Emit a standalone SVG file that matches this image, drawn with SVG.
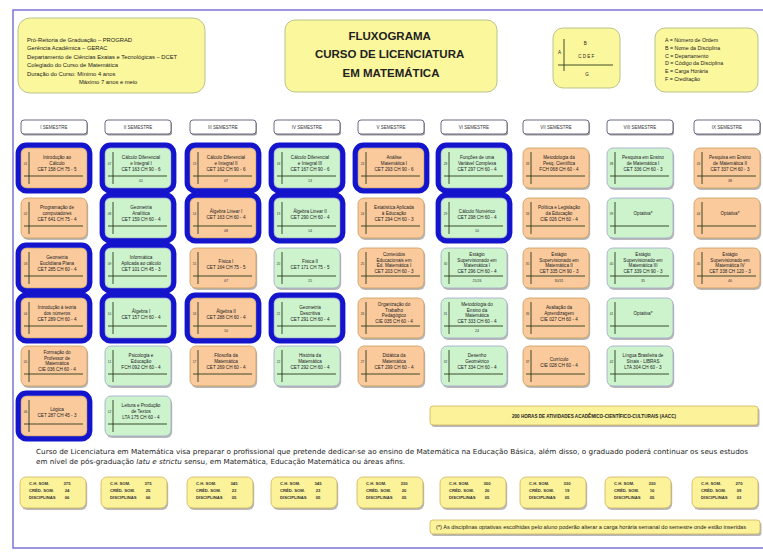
<svg xmlns="http://www.w3.org/2000/svg" width="763" height="552" viewBox="0 0 763 552">
<style>
  .frame{fill:#fff;stroke:#7a74d8;stroke-width:1.5}
  .yel{fill:#fbf79c;stroke:#b9c58a;stroke-width:1}
  .ybox{fill:#fbf29a;stroke:#d2b25e;stroke-width:.8}
  .hdr{fill:#fff;stroke:#6c6a82;stroke-width:1}
  .sh{fill:#7d7d7d;opacity:.55}
  .or{fill:#fbca9c;stroke:#c89c5c;stroke-width:.8}
  .gr{fill:#cdf3cd;stroke:#9ea6cc;stroke-width:.8}
  .hl{fill:none;stroke:#1414cc;stroke-width:5.2}
  .ax{stroke:#2b3a1c;stroke-width:.9;fill:none}
  .t{font-family:"Liberation Sans",Arial,sans-serif;fill:#222}
  .ct{font-family:"Liberation Sans",Arial,sans-serif;font-size:4.6px;text-anchor:middle;fill:#222}
  .an{font-family:"Liberation Sans",Arial,sans-serif;font-size:3.2px;text-anchor:middle;fill:#333}
  .g{font-family:"Liberation Sans",Arial,sans-serif;font-size:3.6px;text-anchor:middle;fill:#333}
  .st{font-family:"Liberation Sans",Arial,sans-serif;font-size:4.5px;text-anchor:middle;fill:#333}
  .sm{font-family:"Liberation Sans",Arial,sans-serif;font-size:4.2px;fill:#333;font-weight:bold}
</style>
<defs>
  <!-- shared course card pieces -->
  <rect id="shadow" class="sh" x="1.2" y="2" width="66" height="40" rx="6"/>
  <path id="axes" class="ax" d="M8 4V36M3 28H62"/>
  <rect id="ring" class="hl" x="-2.8" y="-2.8" width="71.6" height="45.6" rx="8"/>
  <rect id="sumshadow" class="sh" x="1.2" y="2" width="66" height="31" rx="6"/>
  <rect id="hdrshadow" fill="#555" opacity=".6" x="1" y="1.6" width="66" height="14" rx="3"/>
</defs>

<!-- page frame -->
<rect class="frame" x="13" y="10" width="756" height="538"/>

<!-- institution block -->
<g id="info">
  <rect class="yel" x="18" y="18" width="187" height="75" rx="12"/>
  <text class="t" font-size="5.8">
    <tspan x="27" y="41.5">Pró-Reitoria de Graduação – PROGRAD</tspan>
    <tspan x="27" y="50">Gerência Acadêmica – GERAC</tspan>
    <tspan x="27" y="58.5">Departamento de Ciências Exatas e Tecnológicas – DCET</tspan>
    <tspan x="27" y="67">Colegiado do Curso de Matemática</tspan>
    <tspan x="27" y="75.5">Duração do Curso: Mínimo 4 anos</tspan>
    <tspan x="79" y="84">Máximo 7 anos e meio</tspan>
  </text>
</g>

<!-- title -->
<g id="title">
  <rect class="yel" x="285" y="20" width="212" height="72" rx="10"/>
  <text class="t" font-size="11.5" font-weight="bold" text-anchor="middle" fill="#1c1c1c">
    <tspan x="391" y="40">FLUXOGRAMA</tspan>
    <tspan x="391" y="58">CURSO DE LICENCIATURA</tspan>
    <tspan x="391" y="77">EM MATEMÁTICA</tspan>
  </text>
</g>

<!-- card key -->
<g id="key">
  <rect class="yel" x="553" y="28" width="67" height="60" rx="10"/>
  <path class="ax" d="M564 39V71M558 65H613"/>
  <text class="t" font-size="4.5" text-anchor="middle">
    <tspan x="586" y="45">B</tspan>
    <tspan x="560" y="54">A</tspan>
    <tspan x="587" y="58">C D E F</tspan>
    <tspan x="587" y="76">G</tspan>
  </text>
</g>

<!-- key legend -->
<g id="legend">
  <rect class="yel" x="655" y="28" width="103" height="64" rx="10"/>
  <text class="t" font-size="5.3">
    <tspan x="665" y="42">A = Número de Ordem</tspan>
    <tspan x="665" y="49.8">B = Nome da Disciplina</tspan>
    <tspan x="665" y="57.6">C = Departamento</tspan>
    <tspan x="665" y="65.4">D = Código da Disciplina</tspan>
    <tspan x="665" y="73.2">E = Carga Horária</tspan>
    <tspan x="665" y="81">F = Creditação</tspan>
  </text>
</g>

<!-- semester headers -->
<g id="sem1" transform="translate(21,120)"><use href="#hdrshadow"/><rect class="hdr" width="66" height="14" rx="3"/><text class="st" x="33" y="8.6">I SEMESTRE</text></g>
<g id="sem2" transform="translate(105,120)"><use href="#hdrshadow"/><rect class="hdr" width="66" height="14" rx="3"/><text class="st" x="33" y="8.6">II SEMESTRE</text></g>
<g id="sem3" transform="translate(190,120)"><use href="#hdrshadow"/><rect class="hdr" width="66" height="14" rx="3"/><text class="st" x="33" y="8.6">III SEMESTRE</text></g>
<g id="sem4" transform="translate(274,120)"><use href="#hdrshadow"/><rect class="hdr" width="66" height="14" rx="3"/><text class="st" x="33" y="8.6">IV SEMESTRE</text></g>
<g id="sem5" transform="translate(358,120)"><use href="#hdrshadow"/><rect class="hdr" width="66" height="14" rx="3"/><text class="st" x="33" y="8.6">V SEMESTRE</text></g>
<g id="sem6" transform="translate(441,120)"><use href="#hdrshadow"/><rect class="hdr" width="66" height="14" rx="3"/><text class="st" x="33" y="8.6">VI SEMESTRE</text></g>
<g id="sem7" transform="translate(523,120)"><use href="#hdrshadow"/><rect class="hdr" width="66" height="14" rx="3"/><text class="st" x="33" y="8.6">VII SEMESTRE</text></g>
<g id="sem8" transform="translate(607,120)"><use href="#hdrshadow"/><rect class="hdr" width="66" height="14" rx="3"/><text class="st" x="33" y="8.6">VIII SEMESTRE</text></g>
<g id="sem9" transform="translate(694,120)"><use href="#hdrshadow"/><rect class="hdr" width="66" height="14" rx="3"/><text class="st" x="33" y="8.6">IX SEMESTRE</text></g>

<!-- I semestre -->
<g id="d01" transform="translate(21,148)"><use href="#shadow"/><rect class="or" width="66" height="40" rx="6"/><use href="#axes"/><text class="an" x="4.5" y="17">01</text>
  <text class="ct"><tspan x="36" y="11">Introdução ao</tspan><tspan x="36" y="17">Cálculo</tspan><tspan x="36" y="23">CET 158 CH 75 - 5</tspan></text><use href="#ring"/></g>
<g id="d02" transform="translate(21,198)"><use href="#shadow"/><rect class="or" width="66" height="40" rx="6"/><use href="#axes"/><text class="an" x="4.5" y="17">02</text>
  <text class="ct"><tspan x="36" y="11">Programação de</tspan><tspan x="36" y="17">computadores</tspan><tspan x="36" y="23">CET 641 CH 75 - 4</tspan></text></g>
<g id="d03" transform="translate(21,248)"><use href="#shadow"/><rect class="or" width="66" height="40" rx="6"/><use href="#axes"/><text class="an" x="4.5" y="17">03</text>
  <text class="ct"><tspan x="36" y="11">Geometria</tspan><tspan x="36" y="17">Euclidiana Plana</tspan><tspan x="36" y="23">CET 285 CH 60 - 4</tspan></text><use href="#ring"/></g>
<g id="d04" transform="translate(21,298)"><use href="#shadow"/><rect class="or" width="66" height="40" rx="6"/><use href="#axes"/><text class="an" x="4.5" y="17">04</text>
  <text class="ct"><tspan x="36" y="11">Introdução à teoria</tspan><tspan x="36" y="17">dos números</tspan><tspan x="36" y="23">CET 289 CH 60 - 4</tspan></text><use href="#ring"/></g>
<g id="d05" transform="translate(21,346)"><use href="#shadow"/><rect class="or" width="66" height="40" rx="6"/><use href="#axes"/><text class="an" x="4.5" y="17">05</text>
  <text class="ct"><tspan x="36" y="8">Formação do</tspan><tspan x="36" y="13.5">Professor de</tspan><tspan x="36" y="19">Matemática</tspan><tspan x="36" y="24.5">CIE 036 CH 60 - 4</tspan></text></g>
<g id="d06" transform="translate(21,396)"><use href="#shadow"/><rect class="or" width="66" height="40" rx="6"/><use href="#axes"/><text class="an" x="4.5" y="17">06</text>
  <text class="ct"><tspan x="36" y="15">Lógica</tspan><tspan x="36" y="21">CET 287 CH 45 - 3</tspan></text><use href="#ring"/></g>

<!-- II semestre -->
<g id="d07" transform="translate(105,148)"><use href="#shadow"/><rect class="gr" width="66" height="40" rx="6"/><use href="#axes"/><text class="an" x="4.5" y="17">07</text>
  <text class="ct"><tspan x="36" y="11">Cálculo Diferencial</tspan><tspan x="36" y="17">e Integral I</tspan><tspan x="36" y="23">CET 163 CH 90 - 6</tspan></text><text class="g" x="36" y="34">01</text><use href="#ring"/></g>
<g id="d08" transform="translate(105,198)"><use href="#shadow"/><rect class="gr" width="66" height="40" rx="6"/><use href="#axes"/><text class="an" x="4.5" y="17">08</text>
  <text class="ct"><tspan x="36" y="11">Geometria</tspan><tspan x="36" y="17">Analítica</tspan><tspan x="36" y="23">CET 159 CH 60 - 4</tspan></text><use href="#ring"/></g>
<g id="d09" transform="translate(105,248)"><use href="#shadow"/><rect class="gr" width="66" height="40" rx="6"/><use href="#axes"/><text class="an" x="4.5" y="17">09</text>
  <text class="ct"><tspan x="36" y="11">Informática</tspan><tspan x="36" y="17">Aplicada ao cálculo</tspan><tspan x="36" y="23">CET 101 CH 45 - 3</tspan></text><use href="#ring"/></g>
<g id="d10" transform="translate(105,298)"><use href="#shadow"/><rect class="gr" width="66" height="40" rx="6"/><use href="#axes"/><text class="an" x="4.5" y="17">10</text>
  <text class="ct"><tspan x="36" y="15">Álgebra I</tspan><tspan x="36" y="21">CET 157 CH 60 - 4</tspan></text><use href="#ring"/></g>
<g id="d11" transform="translate(105,346)"><use href="#shadow"/><rect class="gr" width="66" height="40" rx="6"/><use href="#axes"/><text class="an" x="4.5" y="17">11</text>
  <text class="ct"><tspan x="36" y="11">Psicologia e</tspan><tspan x="36" y="17">Educação</tspan><tspan x="36" y="23">FCH 092 CH 60 - 4</tspan></text></g>
<g id="d12" transform="translate(105,396)"><use href="#shadow"/><rect class="gr" width="66" height="40" rx="6"/><use href="#axes"/><text class="an" x="4.5" y="17">12</text>
  <text class="ct"><tspan x="36" y="11">Leitura e Produção</tspan><tspan x="36" y="17">de Textos</tspan><tspan x="36" y="23">LTA 175 CH 60 - 4</tspan></text></g>

<!-- III semestre -->
<g id="d13" transform="translate(190,148)"><use href="#shadow"/><rect class="or" width="66" height="40" rx="6"/><use href="#axes"/><text class="an" x="4.5" y="17">13</text>
  <text class="ct"><tspan x="36" y="11">Cálculo Diferencial</tspan><tspan x="36" y="17">e Integral II</tspan><tspan x="36" y="23">CET 162 CH 90 - 6</tspan></text><text class="g" x="36" y="34">07</text><use href="#ring"/></g>
<g id="d14" transform="translate(190,198)"><use href="#shadow"/><rect class="or" width="66" height="40" rx="6"/><use href="#axes"/><text class="an" x="4.5" y="17">14</text>
  <text class="ct"><tspan x="36" y="15">Álgebra Linear I</tspan><tspan x="36" y="21">CET 163 CH 60 - 4</tspan></text><text class="g" x="36" y="34">08</text><use href="#ring"/></g>
<g id="d15" transform="translate(190,248)"><use href="#shadow"/><rect class="or" width="66" height="40" rx="6"/><use href="#axes"/><text class="an" x="4.5" y="17">15</text>
  <text class="ct"><tspan x="36" y="15">Física I</tspan><tspan x="36" y="21">CET 164 CH 75 - 5</tspan></text><text class="g" x="36" y="34">07</text></g>
<g id="d16" transform="translate(190,298)"><use href="#shadow"/><rect class="or" width="66" height="40" rx="6"/><use href="#axes"/><text class="an" x="4.5" y="17">16</text>
  <text class="ct"><tspan x="36" y="15">Álgebra II</tspan><tspan x="36" y="21">CET 288 CH 60 - 4</tspan></text><text class="g" x="36" y="34">10</text><use href="#ring"/></g>
<g id="d17" transform="translate(190,346)"><use href="#shadow"/><rect class="or" width="66" height="40" rx="6"/><use href="#axes"/><text class="an" x="4.5" y="17">17</text>
  <text class="ct"><tspan x="36" y="11">Filosofia da</tspan><tspan x="36" y="17">Matemática</tspan><tspan x="36" y="23">CET 269 CH 60 - 4</tspan></text></g>

<!-- IV semestre -->
<g id="d18" transform="translate(274,148)"><use href="#shadow"/><rect class="gr" width="66" height="40" rx="6"/><use href="#axes"/><text class="an" x="4.5" y="17">18</text>
  <text class="ct"><tspan x="36" y="11">Cálculo Diferencial</tspan><tspan x="36" y="17">e Integral III</tspan><tspan x="36" y="23">CET 167 CH 90 - 6</tspan></text><text class="g" x="36" y="34">13</text><use href="#ring"/></g>
<g id="d19" transform="translate(274,198)"><use href="#shadow"/><rect class="gr" width="66" height="40" rx="6"/><use href="#axes"/><text class="an" x="4.5" y="17">19</text>
  <text class="ct"><tspan x="36" y="15">Álgebra Linear II</tspan><tspan x="36" y="21">CET 290 CH 60 - 4</tspan></text><text class="g" x="36" y="34">14</text><use href="#ring"/></g>
<g id="d20" transform="translate(274,248)"><use href="#shadow"/><rect class="gr" width="66" height="40" rx="6"/><use href="#axes"/><text class="an" x="4.5" y="17">20</text>
  <text class="ct"><tspan x="36" y="15">Física II</tspan><tspan x="36" y="21">CET 171 CH 75 - 5</tspan></text><text class="g" x="36" y="34">15</text></g>
<g id="d21" transform="translate(274,298)"><use href="#shadow"/><rect class="gr" width="66" height="40" rx="6"/><use href="#axes"/><text class="an" x="4.5" y="17">21</text>
  <text class="ct"><tspan x="36" y="11">Geometria</tspan><tspan x="36" y="17">Descritiva</tspan><tspan x="36" y="23">CET 291 CH 60 - 4</tspan></text><use href="#ring"/></g>
<g id="d22" transform="translate(274,346)"><use href="#shadow"/><rect class="gr" width="66" height="40" rx="6"/><use href="#axes"/><text class="an" x="4.5" y="17">22</text>
  <text class="ct"><tspan x="36" y="11">História da</tspan><tspan x="36" y="17">Matemática</tspan><tspan x="36" y="23">CET 292 CH 60 - 4</tspan></text></g>

<!-- V semestre -->
<g id="d23" transform="translate(358,148)"><use href="#shadow"/><rect class="or" width="66" height="40" rx="6"/><use href="#axes"/><text class="an" x="4.5" y="17">23</text>
  <text class="ct"><tspan x="36" y="11">Análise</tspan><tspan x="36" y="17">Matemática I</tspan><tspan x="36" y="23">CET 293 CH 90 - 6</tspan></text><use href="#ring"/></g>
<g id="d24" transform="translate(358,198)"><use href="#shadow"/><rect class="or" width="66" height="40" rx="6"/><use href="#axes"/><text class="an" x="4.5" y="17">24</text>
  <text class="ct"><tspan x="36" y="11">Estatística Aplicada</tspan><tspan x="36" y="17">à Educação</tspan><tspan x="36" y="23">CET 294 CH 60 - 3</tspan></text></g>
<g id="d25" transform="translate(358,248)"><use href="#shadow"/><rect class="or" width="66" height="40" rx="6"/><use href="#axes"/><text class="an" x="4.5" y="17">25</text>
  <text class="ct"><tspan x="36" y="8">Conteúdos</tspan><tspan x="36" y="13.5">Educacionais em</tspan><tspan x="36" y="19">Ed. Matemática I</tspan><tspan x="36" y="24.5">CET 203 CH 60 - 3</tspan></text></g>
<g id="d26" transform="translate(358,298)"><use href="#shadow"/><rect class="or" width="66" height="40" rx="6"/><use href="#axes"/><text class="an" x="4.5" y="17">26</text>
  <text class="ct"><tspan x="36" y="8">Organização do</tspan><tspan x="36" y="13.5">Trabalho</tspan><tspan x="36" y="19">Pedagógico</tspan><tspan x="36" y="24.5">CIE 035 CH 60 - 4</tspan></text></g>
<g id="d27" transform="translate(358,346)"><use href="#shadow"/><rect class="or" width="66" height="40" rx="6"/><use href="#axes"/><text class="an" x="4.5" y="17">27</text>
  <text class="ct"><tspan x="36" y="11">Didática da</tspan><tspan x="36" y="17">Matemática</tspan><tspan x="36" y="23">CET 299 CH 60 - 4</tspan></text></g>

<!-- VI semestre -->
<g id="d28" transform="translate(441,148)"><use href="#shadow"/><rect class="gr" width="66" height="40" rx="6"/><use href="#axes"/><text class="an" x="4.5" y="17">28</text>
  <text class="ct"><tspan x="36" y="11">Funções de uma</tspan><tspan x="36" y="17">Variável Complexa</tspan><tspan x="36" y="23">CET 297 CH 60 - 4</tspan></text><use href="#ring"/></g>
<g id="d29" transform="translate(441,198)"><use href="#shadow"/><rect class="gr" width="66" height="40" rx="6"/><use href="#axes"/><text class="an" x="4.5" y="17">29</text>
  <text class="ct"><tspan x="36" y="15">Cálculo Numérico</tspan><tspan x="36" y="21">CET 298 CH 60 - 4</tspan></text><text class="g" x="36" y="34">10</text><use href="#ring"/></g>
<g id="d30" transform="translate(441,248)"><use href="#shadow"/><rect class="gr" width="66" height="40" rx="6"/><use href="#axes"/><text class="an" x="4.5" y="17">30</text>
  <text class="ct"><tspan x="36" y="8">Estágio</tspan><tspan x="36" y="13.5">Supervisionado em</tspan><tspan x="36" y="19">Matemática I</tspan><tspan x="36" y="24.5">CET 296 CH 60 - 4</tspan></text><text class="g" x="36" y="34">25/26</text></g>
<g id="d31" transform="translate(441,298)"><use href="#shadow"/><rect class="gr" width="66" height="40" rx="6"/><use href="#axes"/><text class="an" x="4.5" y="17">31</text>
  <text class="ct"><tspan x="36" y="8">Metodologia do</tspan><tspan x="36" y="13.5">Ensino da</tspan><tspan x="36" y="19">Matemática</tspan><tspan x="36" y="24.5">CET 333 CH 60 - 4</tspan></text><text class="g" x="36" y="34">24</text></g>
<g id="d32" transform="translate(441,346)"><use href="#shadow"/><rect class="gr" width="66" height="40" rx="6"/><use href="#axes"/><text class="an" x="4.5" y="17">32</text>
  <text class="ct"><tspan x="36" y="11">Desenho</tspan><tspan x="36" y="17">Geométrico</tspan><tspan x="36" y="23">CET 334 CH 60 - 4</tspan></text></g>

<!-- VII semestre -->
<g id="d33" transform="translate(523,148)"><use href="#shadow"/><rect class="or" width="66" height="40" rx="6"/><use href="#axes"/><text class="an" x="4.5" y="17">33</text>
  <text class="ct"><tspan x="36" y="11">Metodologia da</tspan><tspan x="36" y="17">Pesq. Científica</tspan><tspan x="36" y="23">FCH 068 CH 60 - 4</tspan></text></g>
<g id="d34" transform="translate(523,198)"><use href="#shadow"/><rect class="or" width="66" height="40" rx="6"/><use href="#axes"/><text class="an" x="4.5" y="17">34</text>
  <text class="ct"><tspan x="36" y="11">Política e Legislação</tspan><tspan x="36" y="17">da Educação</tspan><tspan x="36" y="23">CIE 026 CH 60 - 4</tspan></text></g>
<g id="d35" transform="translate(523,248)"><use href="#shadow"/><rect class="or" width="66" height="40" rx="6"/><use href="#axes"/><text class="an" x="4.5" y="17">35</text>
  <text class="ct"><tspan x="36" y="8">Estágio</tspan><tspan x="36" y="13.5">Supervisionado em</tspan><tspan x="36" y="19">Matemática II</tspan><tspan x="36" y="24.5">CET 335 CH 90 - 3</tspan></text><text class="g" x="36" y="34">30/31</text></g>
<g id="d36" transform="translate(523,298)"><use href="#shadow"/><rect class="or" width="66" height="40" rx="6"/><use href="#axes"/><text class="an" x="4.5" y="17">36</text>
  <text class="ct"><tspan x="36" y="11">Avaliação da</tspan><tspan x="36" y="17">Aprendizagem</tspan><tspan x="36" y="23">CIE 027 CH 60 - 4</tspan></text></g>
<g id="d37" transform="translate(523,346)"><use href="#shadow"/><rect class="or" width="66" height="40" rx="6"/><use href="#axes"/><text class="an" x="4.5" y="17">37</text>
  <text class="ct"><tspan x="36" y="15">Currículo</tspan><tspan x="36" y="21">CIE 028 CH 60 - 4</tspan></text></g>

<!-- VIII semestre -->
<g id="d38" transform="translate(607,148)"><use href="#shadow"/><rect class="gr" width="66" height="40" rx="6"/><use href="#axes"/><text class="an" x="4.5" y="17">38</text>
  <text class="ct"><tspan x="36" y="11">Pesquisa em Ensino</tspan><tspan x="36" y="17">de Matemática I</tspan><tspan x="36" y="23">CET 336 CH 60 - 3</tspan></text></g>
<g id="d39" transform="translate(607,198)"><use href="#shadow"/><rect class="gr" width="66" height="40" rx="6"/><use href="#axes"/><text class="an" x="4.5" y="17">39</text>
  <text class="ct"><tspan x="36" y="17">Optativa*</tspan></text></g>
<g id="d40" transform="translate(607,248)"><use href="#shadow"/><rect class="gr" width="66" height="40" rx="6"/><use href="#axes"/><text class="an" x="4.5" y="17">40</text>
  <text class="ct"><tspan x="36" y="8">Estágio</tspan><tspan x="36" y="13.5">Supervisionado em</tspan><tspan x="36" y="19">Matemática III</tspan><tspan x="36" y="24.5">CET 339 CH 90 - 3</tspan></text><text class="g" x="36" y="34">35</text></g>
<g id="d41" transform="translate(607,298)"><use href="#shadow"/><rect class="gr" width="66" height="40" rx="6"/><use href="#axes"/><text class="an" x="4.5" y="17">41</text>
  <text class="ct"><tspan x="36" y="17">Optativa*</tspan></text></g>
<g id="d42" transform="translate(607,346)"><use href="#shadow"/><rect class="gr" width="66" height="40" rx="6"/><use href="#axes"/><text class="an" x="4.5" y="17">42</text>
  <text class="ct"><tspan x="36" y="11">Língua Brasileira de</tspan><tspan x="36" y="17">Sinais - LIBRAS</tspan><tspan x="36" y="23">LTA 304 CH 60 - 3</tspan></text></g>

<!-- IX semestre -->
<g id="d43" transform="translate(694,148)"><use href="#shadow"/><rect class="or" width="66" height="40" rx="6"/><use href="#axes"/><text class="an" x="4.5" y="17">43</text>
  <text class="ct"><tspan x="36" y="11">Pesquisa em Ensino</tspan><tspan x="36" y="17">de Matemática II</tspan><tspan x="36" y="23">CET 337 CH 60 - 3</tspan></text><text class="g" x="36" y="34">38</text></g>
<g id="d44" transform="translate(694,198)"><use href="#shadow"/><rect class="or" width="66" height="40" rx="6"/><use href="#axes"/><text class="an" x="4.5" y="17">44</text>
  <text class="ct"><tspan x="36" y="17">Optativa*</tspan></text></g>
<g id="d45" transform="translate(694,248)"><use href="#shadow"/><rect class="or" width="66" height="40" rx="6"/><use href="#axes"/><text class="an" x="4.5" y="17">45</text>
  <text class="ct"><tspan x="36" y="8">Estágio</tspan><tspan x="36" y="13.5">Supervisionado em</tspan><tspan x="36" y="19">Matemática IV</tspan><tspan x="36" y="24.5">CET 338 CH 120 - 3</tspan></text><text class="g" x="36" y="34">40</text></g>

<!-- AACC bar -->
<g id="aacc">
  <rect class="sh" x="431.5" y="408" width="328" height="19" rx="3"/>
  <rect class="ybox" x="430" y="406" width="328" height="19" rx="3"/>
  <text class="t" x="594" y="417.5" font-size="4.6" font-weight="bold" text-anchor="middle">200 HORAS DE ATIVIDADES ACADÊMICO-CIENTÍFICO-CULTURAIS (AACC)</text>
</g>

<!-- course description -->
<g id="description">
  <text x="36" y="454" font-family="'DejaVu Sans',Verdana,sans-serif" font-size="7" fill="#222" textLength="712" lengthAdjust="spacingAndGlyphs">Curso de Licenciatura em Matemática visa preparar o profissional que pretende dedicar-se ao ensino de Matemática na Educação Básica, além disso, o graduado poderá continuar os seus estudos</text>
  <text x="36" y="464" font-family="'DejaVu Sans',Verdana,sans-serif" font-size="7" fill="#222" textLength="369" lengthAdjust="spacingAndGlyphs">em nível de pós-graduação <tspan font-style="italic">latu e strictu</tspan> sensu, em Matemática, Educação Matemática ou áreas afins.</text>
</g>

<!-- semester totals -->
<g id="tot1" transform="translate(20,477)"><use href="#sumshadow"/><rect class="ybox" width="66" height="31" rx="6"/><text class="sm"><tspan x="9" y="7.5">C.H. SOM.</tspan><tspan x="9" y="14.5">CRÉD. SOM.</tspan><tspan x="9" y="21.5">DISCIPLINAS</tspan></text><text class="sm" text-anchor="middle"><tspan x="47" y="7.5">375</tspan><tspan x="47" y="14.5">24</tspan><tspan x="47" y="21.5">06</tspan></text></g>
<g id="tot2" transform="translate(101,477)"><use href="#sumshadow"/><rect class="ybox" width="66" height="31" rx="6"/><text class="sm"><tspan x="9" y="7.5">C.H. SOM.</tspan><tspan x="9" y="14.5">CRÉD. SOM.</tspan><tspan x="9" y="21.5">DISCIPLINAS</tspan></text><text class="sm" text-anchor="middle"><tspan x="47" y="7.5">375</tspan><tspan x="47" y="14.5">25</tspan><tspan x="47" y="21.5">06</tspan></text></g>
<g id="tot3" transform="translate(187,477)"><use href="#sumshadow"/><rect class="ybox" width="66" height="31" rx="6"/><text class="sm"><tspan x="9" y="7.5">C.H. SOM.</tspan><tspan x="9" y="14.5">CRÉD. SOM.</tspan><tspan x="9" y="21.5">DISCIPLINAS</tspan></text><text class="sm" text-anchor="middle"><tspan x="47" y="7.5">345</tspan><tspan x="47" y="14.5">23</tspan><tspan x="47" y="21.5">05</tspan></text></g>
<g id="tot4" transform="translate(271,477)"><use href="#sumshadow"/><rect class="ybox" width="66" height="31" rx="6"/><text class="sm"><tspan x="9" y="7.5">C.H. SOM.</tspan><tspan x="9" y="14.5">CRÉD. SOM.</tspan><tspan x="9" y="21.5">DISCIPLINAS</tspan></text><text class="sm" text-anchor="middle"><tspan x="47" y="7.5">345</tspan><tspan x="47" y="14.5">23</tspan><tspan x="47" y="21.5">05</tspan></text></g>
<g id="tot5" transform="translate(357,477)"><use href="#sumshadow"/><rect class="ybox" width="66" height="31" rx="6"/><text class="sm"><tspan x="9" y="7.5">C.H. SOM.</tspan><tspan x="9" y="14.5">CRÉD. SOM.</tspan><tspan x="9" y="21.5">DISCIPLINAS</tspan></text><text class="sm" text-anchor="middle"><tspan x="47" y="7.5">330</tspan><tspan x="47" y="14.5">20</tspan><tspan x="47" y="21.5">05</tspan></text></g>
<g id="tot6" transform="translate(440,477)"><use href="#sumshadow"/><rect class="ybox" width="66" height="31" rx="6"/><text class="sm"><tspan x="9" y="7.5">C.H. SOM.</tspan><tspan x="9" y="14.5">CRÉD. SOM.</tspan><tspan x="9" y="21.5">DISCIPLINAS</tspan></text><text class="sm" text-anchor="middle"><tspan x="47" y="7.5">300</tspan><tspan x="47" y="14.5">20</tspan><tspan x="47" y="21.5">05</tspan></text></g>
<g id="tot7" transform="translate(520,477)"><use href="#sumshadow"/><rect class="ybox" width="66" height="31" rx="6"/><text class="sm"><tspan x="9" y="7.5">C.H. SOM.</tspan><tspan x="9" y="14.5">CRÉD. SOM.</tspan><tspan x="9" y="21.5">DISCIPLINAS</tspan></text><text class="sm" text-anchor="middle"><tspan x="47" y="7.5">330</tspan><tspan x="47" y="14.5">19</tspan><tspan x="47" y="21.5">05</tspan></text></g>
<g id="tot8" transform="translate(605,477)"><use href="#sumshadow"/><rect class="ybox" width="66" height="31" rx="6"/><text class="sm"><tspan x="9" y="7.5">C.H. SOM.</tspan><tspan x="9" y="14.5">CRÉD. SOM.</tspan><tspan x="9" y="21.5">DISCIPLINAS</tspan></text><text class="sm" text-anchor="middle"><tspan x="47" y="7.5">330</tspan><tspan x="47" y="14.5">16</tspan><tspan x="47" y="21.5">05</tspan></text></g>
<g id="tot9" transform="translate(692,477)"><use href="#sumshadow"/><rect class="ybox" width="66" height="31" rx="6"/><text class="sm"><tspan x="9" y="7.5">C.H. SOM.</tspan><tspan x="9" y="14.5">CRÉD. SOM.</tspan><tspan x="9" y="21.5">DISCIPLINAS</tspan></text><text class="sm" text-anchor="middle"><tspan x="47" y="7.5">270</tspan><tspan x="47" y="14.5">09</tspan><tspan x="47" y="21.5">03</tspan></text></g>

<!-- footnote -->
<g id="footnote">
  <rect class="sh" x="431.5" y="522" width="330" height="14" rx="3"/>
  <rect class="ybox" x="430" y="520" width="330" height="14" rx="3"/>
  <text class="t" x="436" y="528.8" font-size="5" textLength="310" lengthAdjust="spacingAndGlyphs">(*) As disciplinas optativas escolhidas pelo aluno poderão alterar a carga horária semanal do semestre onde estão inseridas</text>
</g>
</svg>
